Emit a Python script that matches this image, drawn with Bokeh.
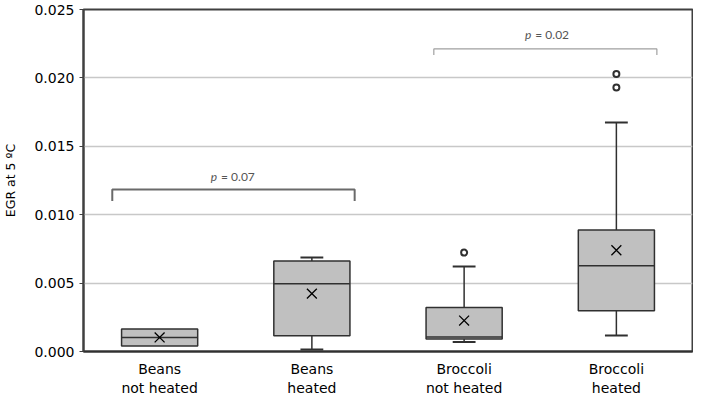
from bokeh.plotting import figure
from bokeh.models import FixedTicker, NumeralTickFormatter
from bokeh.core.properties import value
from bokeh.embed import file_html
from bokeh.resources import INLINE

# ---- data ----
categories = ["Beans\nnot heated", "Beans\nheated", "Broccoli\nnot heated", "Broccoli\nheated"]
positions = [1, 2, 3, 4]
q1 = [0.00041, 0.00115, 0.00091, 0.00298]
median = [0.00103, 0.00495, 0.00106, 0.00627]
q3 = [0.00164, 0.00661, 0.00322, 0.00888]
lower = [0.00041, 0.00014, 0.00070, 0.00117]
upper = [0.00164, 0.00687, 0.00622, 0.01674]
means = [0.00103, 0.00423, 0.00226, 0.00740]
outlier_x = [3, 4, 4]
outlier_y = [0.00723, 0.02029, 0.01929]
y_ticks = [0.0, 0.005, 0.010, 0.015, 0.020, 0.025]

# significance brackets: x start, x end, y top, y of the drop ends
bracket_x0 = [0.689, 2.801]
bracket_x1 = [2.281, 4.266]
bracket_top = [0.01184, 0.02212]
bracket_low = [0.01100, 0.02168]
p_text_x = [1.384, 3.448]
p_text_y = [0.01282, 0.02320]
p_values = ["= 0.07", "= 0.02"]

BOX_W = 0.5
CAP_W = 0.15
FONT = "DejaVu Sans"

p = figure(width=693, height=398, x_range=(0.5, 4.5), y_range=(0, 0.025),
           output_backend="svg", toolbar_location=None,
           min_border_left=80, min_border_right=1, min_border_top=9, min_border_bottom=44)
p.background_fill_color = "white"
p.border_fill_color = "white"
p.outline_line_color = "#404040"
p.outline_line_width = 2

# grid
p.xgrid.grid_line_color = None
p.ygrid.grid_line_color = "#c8c8c8"
p.ygrid.grid_line_width = 1.5
p.ygrid.ticker = FixedTicker(ticks=y_ticks)

# y axis
p.yaxis.ticker = FixedTicker(ticks=y_ticks)
p.yaxis.formatter = NumeralTickFormatter(format="0.000")
p.yaxis.axis_label = "EGR at 5 ºC"
p.yaxis.axis_label_text_font = FONT
p.yaxis.axis_label_text_font_size = "12.5px"
p.yaxis.axis_label_text_font_style = "normal"
p.yaxis.axis_label_text_color = "black"
p.yaxis.axis_label_standoff = 13
p.yaxis.major_label_text_font = FONT
p.yaxis.major_label_text_font_size = "14px"
p.yaxis.major_label_text_color = "black"
p.yaxis.major_label_standoff = 5
p.yaxis.major_tick_out = 4
p.yaxis.major_tick_in = 0
p.yaxis.minor_tick_line_color = None
p.yaxis.axis_line_color = "#404040"
p.yaxis.axis_line_width = 2
p.yaxis.major_tick_line_color = "#404040"

# x axis
p.xaxis.ticker = FixedTicker(ticks=positions)
p.xaxis.major_label_overrides = {pos: lab for pos, lab in zip(positions, categories)}
p.xaxis.major_label_text_font = FONT
p.xaxis.major_label_text_font_size = "14px"
p.xaxis.major_label_text_color = "black"
p.xaxis.major_label_standoff = 9
p.xaxis.major_tick_out = 0
p.xaxis.major_tick_line_color = None
p.xaxis.minor_tick_line_color = None
p.xaxis.axis_line_color = "#303030"
p.xaxis.axis_line_width = 2

LINE = "#303030"

# whiskers (only where they extend beyond the box)
wx, wy0, wy1 = [], [], []
for x, a, b, lo, hi in zip(positions, q1, q3, lower, upper):
    if hi > b:
        wx.append(x); wy0.append(b); wy1.append(hi)
    if lo < a:
        wx.append(x); wy0.append(a); wy1.append(lo)
p.segment(x0=wx, y0=wy0, x1=wx, y1=wy1, line_color=LINE, line_width=1.5)
p.segment(x0=[x - CAP_W / 2 for x in wx], y0=wy1, x1=[x + CAP_W / 2 for x in wx], y1=wy1,
          line_color=LINE, line_width=2)

# boxes
p.vbar(x=positions, width=BOX_W, bottom=q1, top=q3, fill_color="#c0c0c0",
       line_color=LINE, line_width=1.5)
p.segment(x0=[x - BOX_W / 2 for x in positions], y0=median,
          x1=[x + BOX_W / 2 for x in positions], y1=median, line_color=LINE, line_width=1.5)

# means and outliers
p.scatter(x=positions, y=means, marker="x", size=14, line_color="black", line_width=1.3)
p.scatter(x=outlier_x, y=outlier_y, marker="circle", size=6, fill_color="white",
          line_color=LINE, line_width=2)

# brackets
xs = [[a, a, b, b] for a, b in zip(bracket_x0, bracket_x1)]
ys = [[lo, t, t, lo] for t, lo in zip(bracket_top, bracket_low)]
p.multi_line(xs=[xs[0]], ys=[ys[0]], line_color="#6a6a6a", line_width=2)
p.multi_line(xs=[xs[1]], ys=[ys[1]], line_color="#a0a0a0", line_width=1.2)

p.text(x=p_text_x, y=p_text_y, text=["p", "p"], text_font=value("Lato"),
       text_font_size="12px", text_font_style="italic", text_color="#555555",
       text_align="right", text_baseline="middle", x_offset=-1)
p.text(x=p_text_x, y=p_text_y, text=p_values, text_font=value("Lato"),
       text_font_size="12px", text_color="#555555",
       text_align="left", text_baseline="middle", x_offset=3)

open("out.html", "w").write(file_html(p, INLINE))
